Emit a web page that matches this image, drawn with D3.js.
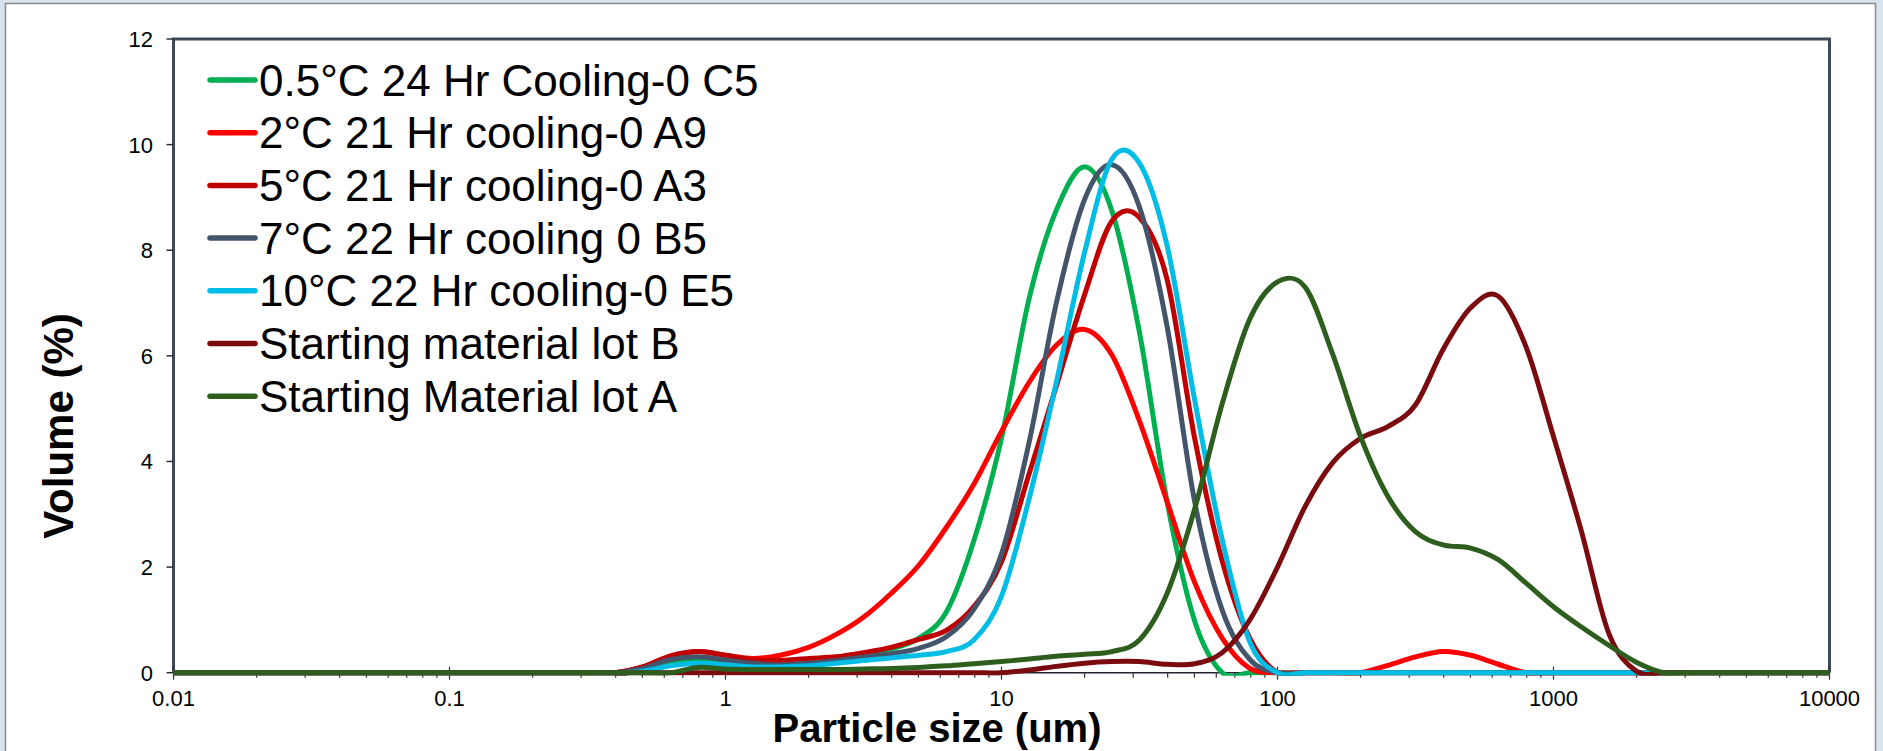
<!DOCTYPE html>
<html lang="en">
<head>
<meta charset="UTF-8">
<title>Particle size distribution</title>
<script src="https://cdn.jsdelivr.net/npm/d3@7"></script>
<style>
  html, body { margin: 0; padding: 0; background: #d8e3ed; overflow: hidden; }
  svg { display: block; font-family: Arial, "Liberation Sans", sans-serif; }
  .tick-label { font-size: 22px; fill: #000; }
  .legend text { font-size: 44px; fill: #000; }
  .axis-title { font-size: 40px; font-weight: bold; fill: #000; }
</style>
</head>
<body>
<svg width="1883" height="751"></svg>
<script>
// particle sizes (um), log spaced bins
const sizes = [0.01,
  0.316, 0.398, 0.501, 0.631, 0.794, 1, 1.26, 1.58, 2, 2.51,
  3.16, 3.98, 5.01, 6.31, 7.94, 10, 12.6, 15.8, 20, 25.1,
  31.6, 39.8, 50.1, 63.1, 79.4, 100, 126, 158, 200, 251,
  316, 398, 501, 631, 794, 1000, 1259, 1585, 1995, 2512,
  3162, 10000];

const seriesNames = [
  "0.5°C 24 Hr Cooling-0 C5",
  "2°C 21 Hr cooling-0 A9",
  "5°C 21 Hr cooling-0 A3",
  "7°C 22 Hr cooling 0 B5",
  "10°C 22 Hr cooling-0 E5",
  "Starting material lot B",
  "Starting Material lot A"
];
const seriesColors = ["#00b050", "#ff0000", "#c00000", "#44546a", "#00bde6", "#7a0c10", "#2d5e1e"];

// volume (%) per size bin
const c5 = [0,
  0, 0, 0.05, 0.2, 0.25, 0.2, 0.16, 0.15, 0.18, 0.25,
  0.33, 0.45, 0.65, 1.15, 2.5, 4.44, 7.09, 8.76, 9.58, 8.75,
  6.45, 3.24, 0.98, 0, 0, 0, 0, 0, 0, 0,
  0, 0, 0, 0, 0, 0, 0, 0, 0, 0,
  0, 0];
const a9 = [0,
  0, 0, 0.11, 0.3, 0.4, 0.33, 0.27, 0.33, 0.48, 0.72,
  1.05, 1.5, 2.03, 2.75, 3.57, 4.57, 5.5, 6.2, 6.5, 6.02,
  4.77, 3.24, 1.71, 0.65, 0.08, 0, 0, 0, 0, 0.14,
  0.3, 0.4, 0.33, 0.16, 0, 0, 0, 0, 0, 0,
  0, 0];
const a3 = [0,
  0, 0, 0.11, 0.32, 0.4, 0.33, 0.24, 0.23, 0.27, 0.3,
  0.38, 0.48, 0.63, 0.8, 1.25, 2.1, 3.77, 5.43, 7.16, 8.55,
  8.62, 7.45, 4.44, 2.11, 0.65, 0, 0, 0, 0, 0,
  0, 0, 0, 0, 0, 0, 0, 0, 0, 0,
  0, 0];
const b5 = [0,
  0, 0, 0.08, 0.25, 0.3, 0.24, 0.18, 0.15, 0.18, 0.23,
  0.3, 0.36, 0.46, 0.68, 1.2, 2.25, 4.37, 7.0, 8.96, 9.62,
  8.82, 6.56, 3.24, 1.18, 0.25, 0, 0, 0, 0, 0,
  0, 0, 0, 0, 0, 0, 0, 0, 0, 0,
  0, 0];
const e5 = [0,
  0, 0, 0.03, 0.13, 0.18, 0.15, 0.11, 0.11, 0.13, 0.18,
  0.23, 0.28, 0.33, 0.4, 0.62, 1.45, 3.3, 5.5, 7.96, 9.72,
  9.65, 8.09, 5.17, 2.51, 0.58, 0, 0, 0, 0, 0,
  0, 0, 0, 0, 0, 0, 0, 0, 0, 0,
  0, 0];
const lotB = [0,
  0, 0, 0, 0, 0, 0, 0, 0, 0, 0,
  0, 0, 0, 0, 0, 0, 0.05, 0.12, 0.18, 0.21,
  0.21, 0.16, 0.17, 0.38, 1.0, 2.0, 3.15, 3.97, 4.44, 4.66,
  5.07, 6.12, 6.91, 7.13, 6.18, 4.47, 2.7, 0.75, 0.03, 0,
  0, 0];
const lotA = [0,
  0, 0, 0, 0, 0.1, 0.07, 0.06, 0.06, 0.06, 0.06,
  0.07, 0.08, 0.1, 0.13, 0.17, 0.21, 0.26, 0.31, 0.35, 0.4,
  0.62, 1.5, 3.1, 5.1, 6.7, 7.4, 7.3, 6.05, 4.47, 3.34,
  2.67, 2.42, 2.36, 2.14, 1.7, 1.25, 0.87, 0.52, 0.2, 0,
  0, 0];

const seriesValues = [c5, a9, a3, b5, e5, lotB, lotA];
const xTickLabels = ["0.01", "0.1", "1", "10", "100", "1000", "10000"];
const yTicks = [0, 2, 4, 6, 8, 10, 12];

const svg = d3.select("svg");

// chart frame
svg.append("rect")
    .attr("x", 5.5).attr("y", 3.5)
    .attr("width", 1870).attr("height", 770)
    .attr("fill", "#fff")
    .attr("stroke", "#8c8c8c")
    .attr("stroke-width", 1.5);

const plotLeft = 173.5, plotRight = 1829.5, plotTop = 39, plotBottom = 672.7;

const x = d3.scaleLog().domain([0.01, 10000]).range([plotLeft, plotRight]);
const y = d3.scaleLinear().domain([0, 12]).range([plotBottom, plotTop]);

// plot area border
svg.append("path")
    .attr("d", `M${plotLeft},${plotBottom}V${plotTop}H${plotRight}V${plotBottom}`)
    .attr("fill", "none")
    .attr("stroke", "#3d4859")
    .attr("stroke-width", 3);

// x axis line
svg.append("line")
    .attr("x1", plotLeft).attr("x2", plotRight)
    .attr("y1", plotBottom).attr("y2", plotBottom)
    .attr("stroke", "#1e2733")
    .attr("stroke-width", 1.5);

// y ticks
const yAxis = svg.append("g");
yAxis.selectAll("line").data(yTicks).enter().append("line")
    .attr("x1", plotLeft - 7).attr("x2", plotLeft)
    .attr("y1", d => y(d)).attr("y2", d => y(d))
    .attr("stroke", "#2a2f38").attr("stroke-width", 1.5);
yAxis.selectAll("text").data(yTicks).enter().append("text")
    .attr("class", "tick-label")
    .attr("x", 153)
    .attr("y", d => y(d) + 8)
    .attr("text-anchor", "end")
    .text(d => d);

// x ticks, majors at decades
const xTicks = x.ticks();
const isMajor = d => Math.abs(Math.log10(d) - Math.round(Math.log10(d))) < 1e-9;
const xAxis = svg.append("g");
xAxis.selectAll("line").data(xTicks).enter().append("line")
    .attr("x1", d => x(d)).attr("x2", d => x(d))
    .attr("y1", d => isMajor(d) ? plotBottom - 6 : plotBottom)
    .attr("y2", d => isMajor(d) ? plotBottom + 7 : plotBottom + 5)
    .attr("stroke", "#333").attr("stroke-width", 1.2);
xAxis.selectAll("text").data(xTicks.filter(isMajor)).enter().append("text")
    .attr("class", "tick-label")
    .attr("x", d => x(d))
    .attr("y", 706)
    .attr("text-anchor", "middle")
    .text((d, i) => xTickLabels[i]);

// clip lines to the plot area (a little below zero so baseline strokes stay whole)
svg.append("defs").append("clipPath").attr("id", "plot-clip")
    .append("rect")
    .attr("x", plotLeft).attr("y", plotTop)
    .attr("width", plotRight - plotLeft).attr("height", plotBottom - plotTop + 3);

const line = d3.line()
    .x((d, i) => x(sizes[i]))
    .y(d => y(d))
    .curve(d3.curveCatmullRom.alpha(0));

svg.append("g")
    .attr("clip-path", "url(#plot-clip)")
    .selectAll("path")
    .data(seriesValues)
    .enter().append("path")
    .attr("d", line)
    .attr("fill", "none")
    .attr("stroke", (d, i) => seriesColors[i])
    .attr("stroke-width", 5)
    .attr("stroke-linejoin", "round");

// legend
const legend = svg.append("g").attr("class", "legend");
const items = legend.selectAll("g")
    .data(seriesNames)
    .enter().append("g")
    .attr("transform", (d, i) => `translate(0,${80 + i * 52.7})`);
items.append("line")
    .attr("x1", 210).attr("x2", 255)
    .attr("stroke", (d, i) => seriesColors[i])
    .attr("stroke-width", 5.5)
    .attr("stroke-linecap", "round");
items.append("text")
    .attr("x", 259)
    .attr("y", 15.5)
    .text(d => d);

// axis titles
svg.append("text")
    .attr("class", "axis-title")
    .attr("transform", "translate(73,426) rotate(-90)")
    .attr("text-anchor", "middle")
    .style("font-size", "42px")
    .text("Volume (%)");

svg.append("text")
    .attr("class", "axis-title")
    .attr("x", 937)
    .attr("y", 742)
    .attr("text-anchor", "middle")
    .text("Particle size (um)");
</script>
</body>
</html>
